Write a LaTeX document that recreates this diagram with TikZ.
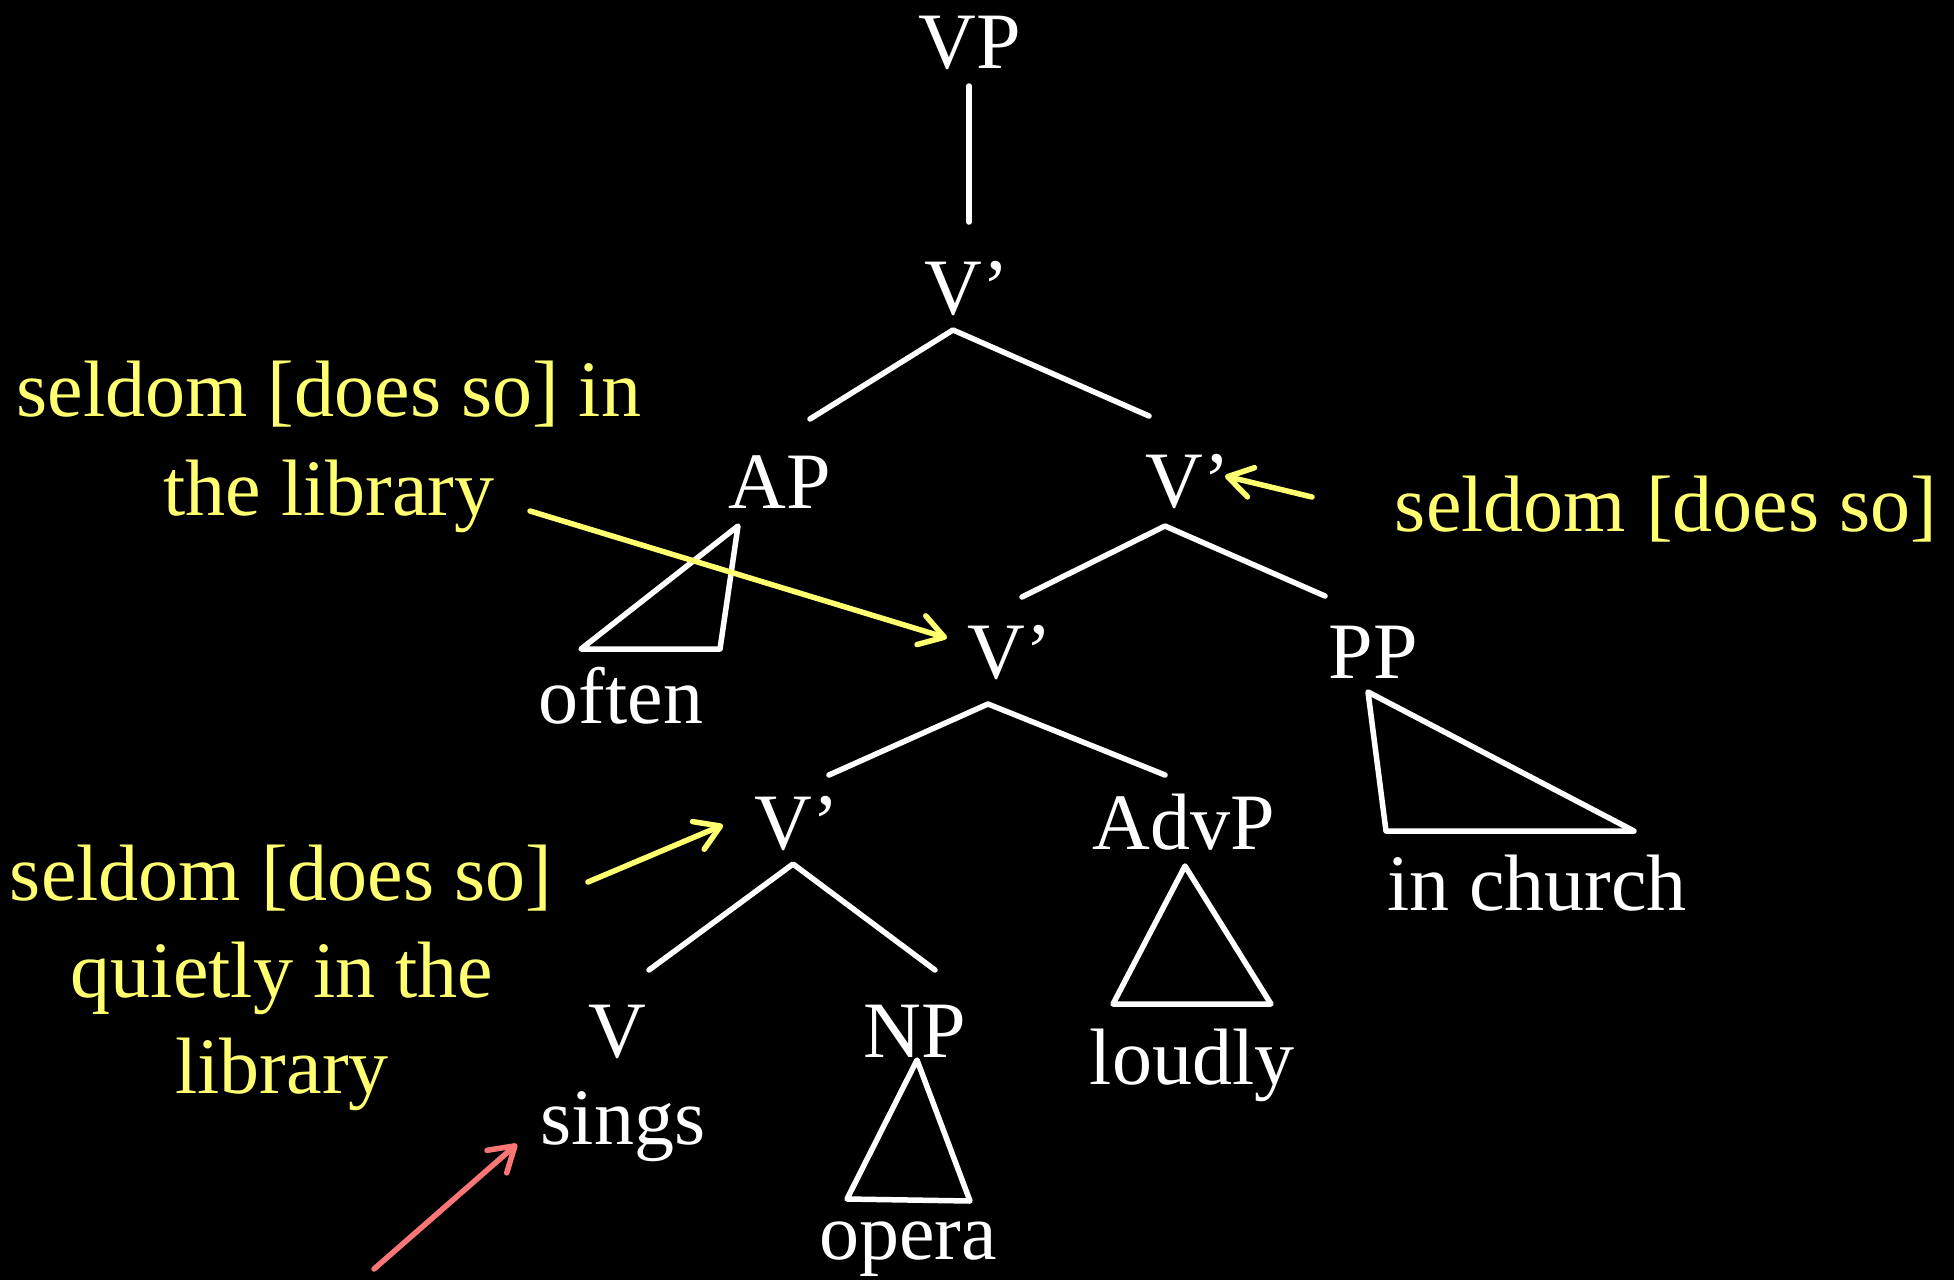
\documentclass[tikz,border=0pt]{standalone}
\usepackage{fontspec}
\setmainfont{Liberation Serif}
\usetikzlibrary{arrows.meta}
\definecolor{annot}{RGB}{255,255,112}
\definecolor{pinkarrow}{RGB}{250,118,118}
\begin{document}
\begin{tikzpicture}[x=1pt,y=-1pt,
  lbl/.style={inner sep=0pt,anchor=base,text=white,font=\fontsize{80}{96}\selectfont},
  note/.style={inner sep=0pt,anchor=base,text=annot,font=\fontsize{80}{96}\selectfont},
  branch/.style={draw=white,line width=5.5pt,line cap=round,line join=round},
  pointer/.style={line width=5.5pt,line cap=round,
    -{Straight Barb[length=24pt,width=30pt,line cap=round,line join=round]}},
]
% canvas
\fill[black] (0,0) rectangle (1954,1280);
\useasboundingbox (0,0) rectangle (1954,1280);

% category labels and words
\node[lbl] (vp)    at (970,68)   {VP};
\node[lbl] (vb1)   at (967,314)  {V’};
\node[lbl] (ap)    at (780,508)  {AP};
\node[lbl] (vb2)   at (1188,507) {V’};
\node[lbl] (vb3)   at (1010,678) {V’};
\node[lbl] (pp)    at (1373,678) {PP};
\node[lbl] (often) at (621,723)  {often};
\node[lbl] (inch)  at (1537,910) {in church};
\node[lbl] (vb4)   at (797,849)  {V’};
\node[lbl] (advp)  at (1184,849) {AdvP};
\node[lbl] (loud)  at (1192,1084){loudly};
\node[lbl] (v)     at (617,1057) {V};
\node[lbl] (np)    at (915,1057) {NP};
\node[lbl] (sings) at (623,1144) {sings};
\node[lbl] (opera) at (908,1259) {opera};

% branch end points
\coordinate (vpB)   at (969,86);
\coordinate (vb1T)  at (969,222);
\coordinate (vb1B)  at (953,330);
\coordinate (apT)   at (810,419);
\coordinate (vb2T)  at (1149,416);
\coordinate (vb2B)  at (1165,526);
\coordinate (vb3T)  at (1022,597);
\coordinate (ppT)   at (1325,596);
\coordinate (vb3B)  at (988,704);
\coordinate (vb4T)  at (829,775);
\coordinate (advpT) at (1165,775);
\coordinate (vb4B)  at (793,864);
\coordinate (vT)    at (649,970);
\coordinate (npT)   at (935,970);

% triangle corners
\coordinate (apA) at (738,526);  \coordinate (apL) at (581,649);  \coordinate (apR) at (720,649);
\coordinate (ppA) at (1368,692); \coordinate (ppL) at (1386,831); \coordinate (ppR) at (1634,831);
\coordinate (avA) at (1185,866); \coordinate (avL) at (1113,1004);\coordinate (avR) at (1271,1004);
\coordinate (npA) at (917,1060); \coordinate (npL) at (847,1199); \coordinate (npR) at (970,1201);

% tree branches
\draw[branch] (vpB) -- (vb1T);
\draw[branch] (apT) -- (vb1B) -- (vb2T);
\draw[branch] (vb3T) -- (vb2B) -- (ppT);
\draw[branch] (vb4T) -- (vb3B) -- (advpT);
\draw[branch] (vT) -- (vb4B) -- (npT);

% roofs over unanalysed phrases
\draw[branch] (apA) -- (apL) -- (apR) -- cycle;
\draw[branch] (ppA) -- (ppL) -- (ppR) -- cycle;
\draw[branch] (avA) -- (avL) -- (avR) -- cycle;
\draw[branch] (npA) -- (npL) -- (npR) -- cycle;

% annotations
\node[note] (n1a) at (329,416)  {seldom [does so] in};
\node[note] (n1b) at (329,515)  {the library};
\node[note] (n2)  at (1666,531) {seldom [does so]};
\node[note] (n3a) at (281,900)  {seldom [does so]};
\node[note] (n3b) at (282,997)  {quietly in the};
\node[note] (n3c) at (282,1093) {library};

% annotation pointers
\coordinate (p1s) at (530,511);  \coordinate (p1e) at (947,638);
\coordinate (p2s) at (1312,497); \coordinate (p2e) at (1225,476);
\coordinate (p3s) at (588,882);  \coordinate (p3e) at (723,825);
\coordinate (p4s) at (374,1269); \coordinate (p4e) at (517,1144);
\draw[pointer,annot] (p1s) -- (p1e);
\draw[pointer,annot] (p2s) -- (p2e);
\draw[pointer,annot] (p3s) -- (p3e);
\draw[pointer,pinkarrow] (p4s) -- (p4e);
\end{tikzpicture}
\end{document}
